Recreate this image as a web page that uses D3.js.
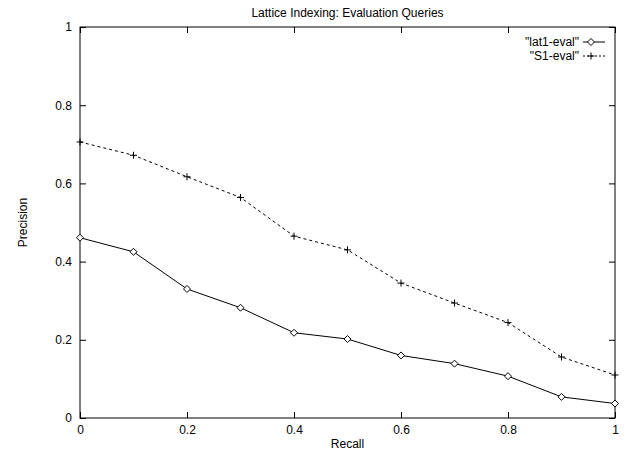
<!DOCTYPE html>
<html><head><meta charset="utf-8">
<script src="https://cdn.jsdelivr.net/npm/d3@7"></script>
<style>body{margin:0;background:#fff}svg{display:block}text{font-family:"Liberation Sans",Arial,sans-serif;font-size:12px;fill:#000}</style>
</head><body><svg id="c" width="624" height="453"></svg>
<script>
const recall = [0,0.1,0.2,0.3,0.4,0.5,0.6,0.7,0.8,0.9,1.0];
const lat1 = [0.461,0.425,0.330,0.282,0.218,0.202,0.160,0.139,0.107,0.054,0.037];
const s1 = [0.706,0.672,0.617,0.564,0.465,0.430,0.345,0.294,0.244,0.156,0.110];
const xTicks = [0,0.2,0.4,0.6,0.8,1];
const yTicks = [0,0.2,0.4,0.6,0.8,1];
const seriesNames = ['"lat1-eval"','"S1-eval"'];

const svg = d3.select("#c");
const L=80,R=615,T=27,B=418;
const x = d3.scaleLinear().domain([0,1]).range([L,R]);
const y = d3.scaleLinear().domain([0,1]).range([B,T]);
const tl = 6;

svg.append("rect").attr("x",L).attr("y",T).attr("width",R-L).attr("height",B-T)
  .attr("fill","none").attr("stroke","#000").attr("stroke-width",1);

const fmt = d=> d===0?"0":d===1?"1":String(d);
const gx = svg.append("g").attr("transform",`translate(0,${B})`)
  .call(d3.axisBottom(x).tickValues(xTicks).tickFormat(fmt).tickSizeInner(-tl).tickSizeOuter(0).tickPadding(7));
const gxt = svg.append("g").attr("transform",`translate(0,${T})`)
  .call(d3.axisTop(x).tickValues(xTicks).tickFormat("").tickSizeInner(-tl).tickSizeOuter(0));
const gy = svg.append("g").attr("transform",`translate(${L},0)`)
  .call(d3.axisLeft(y).tickValues(yTicks).tickFormat(fmt).tickSizeInner(-tl).tickSizeOuter(0).tickPadding(8));
const gyr = svg.append("g").attr("transform",`translate(${R},0)`)
  .call(d3.axisRight(y).tickValues(yTicks).tickFormat("").tickSizeInner(-tl).tickSizeOuter(0));
[gx,gxt,gy,gyr].forEach(g=>{g.select(".domain").remove();g.selectAll("line").attr("stroke","#000");
  g.selectAll("text").attr("font-family",'"Liberation Sans",Arial,sans-serif').attr("font-size",12).attr("fill","#000");});

svg.append("text").attr("x",(L+R)/2).attr("y",17).attr("text-anchor","middle").text("Lattice Indexing: Evaluation Queries");
svg.append("text").attr("x",(L+R)/2).attr("y",448).attr("text-anchor","middle").text("Recall");
svg.append("text").attr("transform",`translate(27,${(T+B)/2}) rotate(-90)`).attr("text-anchor","middle").text("Precision");

const line = d3.line().x((d,i)=>x(recall[i])).y(d=>y(d));
svg.append("path").datum(lat1).attr("d",line).attr("fill","none").attr("stroke","#000").attr("stroke-width",1);
svg.append("path").datum(s1).attr("d",line).attr("fill","none").attr("stroke","#000").attr("stroke-width",1).attr("stroke-dasharray","3,3");

const diamond = (cx,cy,r)=>`M${cx},${cy-r}L${cx+r},${cy}L${cx},${cy+r}L${cx-r},${cy}Z`;
const plus = (cx,cy,r)=>`M${cx-r},${cy}H${cx+r}M${cx},${cy-r}V${cy+r}`;
svg.append("g").selectAll("path").data(lat1).join("path")
  .attr("d",(d,i)=>diamond(x(recall[i]),y(d),3.5)).attr("fill","#fff").attr("stroke","#000").attr("stroke-width",1);
svg.append("g").selectAll("path").data(s1).join("path")
  .attr("d",(d,i)=>plus(x(recall[i]),y(d),3.5)).attr("fill","none").attr("stroke","#000").attr("stroke-width",1);

const lgX = 579, lgY=[42,56];
svg.append("text").attr("x",lgX).attr("y",lgY[0]+4).attr("text-anchor","end").attr("font-size",11.5).text(seriesNames[0]);
svg.append("text").attr("x",lgX).attr("y",lgY[1]+4).attr("text-anchor","end").attr("font-size",11.5).text(seriesNames[1]);
svg.append("line").attr("x1",583).attr("x2",605).attr("y1",lgY[0]).attr("y2",lgY[0]).attr("stroke","#000");
svg.append("path").attr("d",diamond(591,lgY[0],3.5)).attr("fill","#fff").attr("stroke","#000");
svg.append("line").attr("x1",583).attr("x2",605).attr("y1",lgY[1]).attr("y2",lgY[1]).attr("stroke","#000").attr("stroke-dasharray","2,2");
svg.append("path").attr("d",plus(591,lgY[1],3.5)).attr("fill","none").attr("stroke","#000");
</script></body></html>
